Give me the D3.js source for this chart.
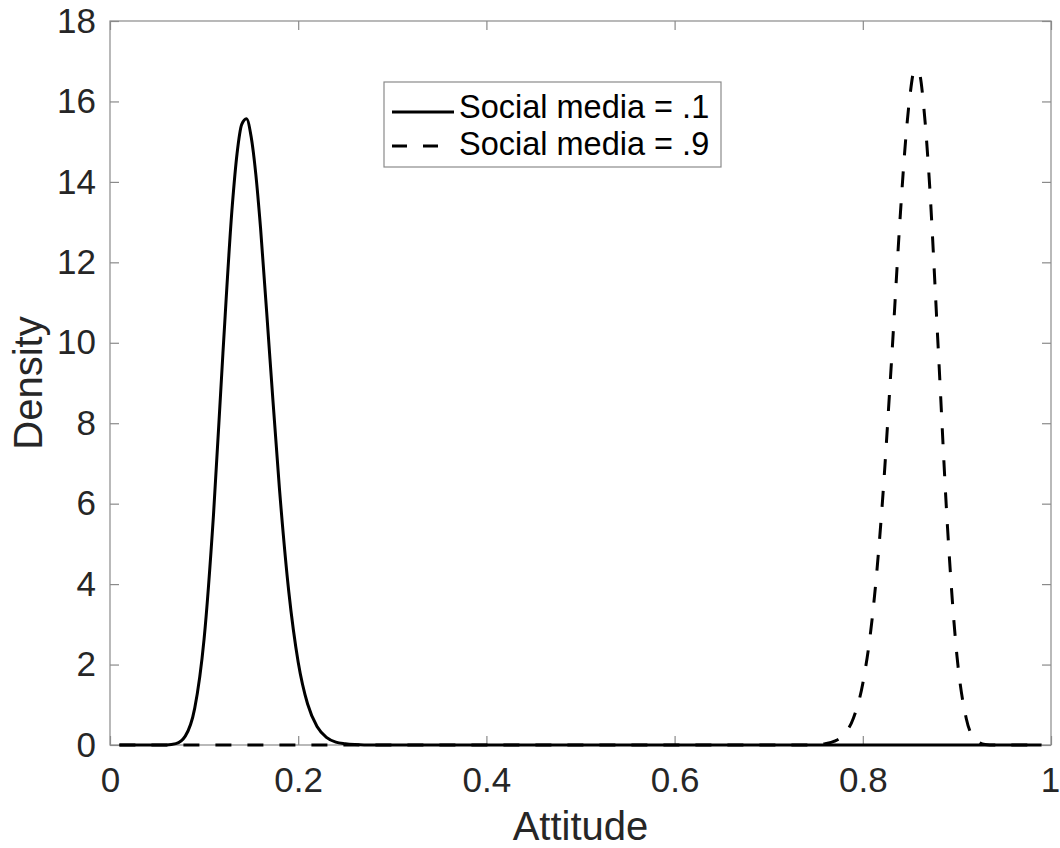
<!DOCTYPE html>
<html>
<head>
<meta charset="utf-8">
<script src="https://cdn.jsdelivr.net/npm/d3@7"></script>
<style>
  body { margin: 0; background: #fff; }
  svg { display: block; }
  text { font-family: "Liberation Sans", Arial, Helvetica, sans-serif; }
</style>
</head>
<body>
<svg id="chart" width="1060" height="848"></svg>
<script>
// Density of attitude, social media = .1 (solid curve)
const attitudeLow = [0.01, 0.05, 0.06, 0.07, 0.08, 0.09, 0.10, 0.11, 0.12, 0.13, 0.135, 0.14, 0.145,
  0.15, 0.155, 0.16, 0.17, 0.18, 0.19, 0.20, 0.21, 0.22, 0.23, 0.24, 0.25, 0.26, 0.27, 0.99];
const densityLow = [0, 0, 0.003, 0.034, 0.22, 0.91, 2.64, 5.73, 9.74, 13.42, 14.70, 15.43, 15.57,
  15.12, 14.18, 12.85, 9.60, 6.39, 3.81, 2.06, 1.02, 0.46, 0.19, 0.07, 0.03, 0.01, 0, 0];

// Density of attitude, social media = .9 (dashed curve)
const attitudeHigh = [0.01, 0.74, 0.75, 0.76, 0.77, 0.78, 0.79, 0.80, 0.81, 0.82, 0.83, 0.84, 0.845,
  0.85, 0.855, 0.86, 0.865, 0.87, 0.88, 0.89, 0.90, 0.91, 0.92, 0.93, 0.94, 0.99];
const densityHigh = [0, 0, 0.009, 0.031, 0.094, 0.262, 0.666, 1.53, 3.15, 5.77, 9.35, 13.23, 14.89,
  16.12, 16.78, 16.70, 15.81, 14.29, 9.93, 5.42, 2.23, 0.653, 0.127, 0.015, 0.001, 0];

const xTicks = [0, 0.2, 0.4, 0.6, 0.8, 1];
const xTickLabels = ["0", "0.2", "0.4", "0.6", "0.8", "1"];
const yTicks = [0, 2, 4, 6, 8, 10, 12, 14, 16, 18];
const seriesNames = ["Social media = .1", "Social media = .9"];
const xTitle = "Attitude";
const yTitle = "Density";

const svg = d3.select("#chart");
const plot = { left: 110, right: 1051, top: 21, bottom: 745 };
const axisColor = "#8a8a8a";
const textColor = "#262626";
const tickLen = 9;
const tickFont = 35;

const x = d3.scaleLinear().domain([0, 1]).range([plot.left, plot.right]);
const y = d3.scaleLinear().domain([0, 18]).range([plot.bottom, plot.top]);

function styleAxis(g) {
  g.select(".domain").remove();
  g.selectAll(".tick line").attr("stroke", axisColor).attr("stroke-width", 1.2);
  g.selectAll(".tick text").attr("fill", textColor).attr("font-size", tickFont)
    .attr("font-family", '"Liberation Sans", Arial, Helvetica, sans-serif');
}

// Bottom and left axes with labels
svg.append("g")
  .attr("transform", `translate(0,${plot.bottom})`)
  .call(d3.axisBottom(x).tickValues(xTicks).tickFormat((d, i) => xTickLabels[i])
    .tickSizeInner(-tickLen).tickSizeOuter(0).tickPadding(22))
  .call(styleAxis)
  .call(g => g.selectAll(".tick:last-of-type text").attr("dx", -1));

svg.append("g")
  .attr("transform", `translate(${plot.left},0)`)
  .call(d3.axisLeft(y).tickValues(yTicks).tickFormat(d3.format("d"))
    .tickSizeInner(-tickLen).tickSizeOuter(0).tickPadding(14))
  .call(styleAxis);

// Mirrored ticks on top and right
svg.append("g")
  .attr("transform", `translate(0,${plot.top})`)
  .call(d3.axisTop(x).tickValues(xTicks).tickFormat("").tickSizeInner(-tickLen).tickSizeOuter(0))
  .call(styleAxis);

svg.append("g")
  .attr("transform", `translate(${plot.right},0)`)
  .call(d3.axisRight(y).tickValues(yTicks).tickFormat("").tickSizeInner(-tickLen).tickSizeOuter(0))
  .call(styleAxis);

// Box
svg.append("rect")
  .attr("x", plot.left).attr("y", plot.top)
  .attr("width", plot.right - plot.left).attr("height", plot.bottom - plot.top)
  .attr("fill", "none").attr("stroke", axisColor).attr("stroke-width", 1.2);

// Curves
const line = d3.line().x(d => x(d[0])).y(d => y(d[1])).curve(d3.curveMonotoneX);

svg.append("path")
  .datum(d3.zip(attitudeLow, densityLow))
  .attr("d", line)
  .attr("fill", "none").attr("stroke", "#000").attr("stroke-width", 3)
  .attr("stroke-linejoin", "round");

svg.append("path")
  .datum(d3.zip(attitudeHigh, densityHigh))
  .attr("d", line)
  .attr("fill", "none").attr("stroke", "#000").attr("stroke-width", 3)
  .attr("stroke-dasharray", "16,16");

// Axis titles
svg.append("text")
  .attr("x", (plot.left + plot.right) / 2).attr("y", 840)
  .attr("text-anchor", "middle").attr("font-size", 40).attr("fill", textColor)
  .text(xTitle);

svg.append("text")
  .attr("transform", `translate(42,${(plot.top + plot.bottom) / 2}) rotate(-90)`)
  .attr("text-anchor", "middle").attr("font-size", 40).attr("fill", textColor)
  .text(yTitle);

// Legend
const legend = svg.append("g");
legend.append("rect")
  .attr("x", 384).attr("y", 82).attr("width", 337).attr("height", 85)
  .attr("fill", "#fff").attr("stroke", axisColor).attr("stroke-width", 1.2);

const legendRows = [
  { name: seriesNames[0], dash: null, lineY: 112, textY: 118 },
  { name: seriesNames[1], dash: "15,16", lineY: 146, textY: 155 }
];
legendRows.forEach(r => {
  legend.append("line")
    .attr("x1", 392).attr("x2", 454).attr("y1", r.lineY).attr("y2", r.lineY)
    .attr("stroke", "#000").attr("stroke-width", 3)
    .attr("stroke-dasharray", r.dash);
  legend.append("text")
    .attr("x", 459).attr("y", r.textY)
    .attr("font-size", 32.5).attr("fill", "#000")
    .text(r.name);
});
</script>
</body>
</html>
